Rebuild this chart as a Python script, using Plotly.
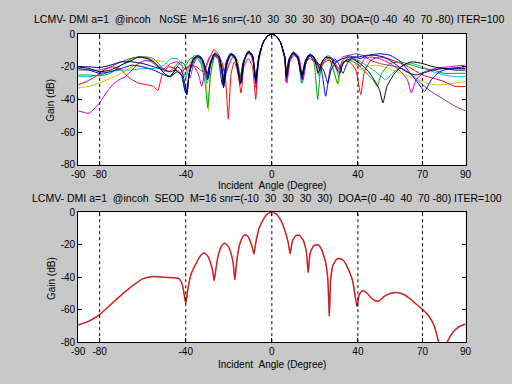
import plotly.graph_objects as go

# ---------------- data ----------------
doa = [0, -40, 40, 70, -80]
x_ticks = [-90, -80, -40, 0, 40, 70, 90]
y_ticks = [-80, -60, -40, -20, 0]

# top panel (NoSE): several trials
ang_a = [-90,-85,-80,-75,-70,-65,-60,-55,-50,-47,-44,-42,-40,-38,-35,-33,-31,-30,-29,-27,-25,-23,-21,-19,-17,-15,-14.3,-13,-11,-9,-7.5,-6,-4,-2,0,2,4,6,6.8,8,10,12,14,15,17,19,21,23,25,27,29,31,33,35,38,41,45,50,55,60,65,68,71,74,78,83,90]
gain_a = [-21,-22,-24,-23,-21,-19,-20,-22,-25,-26,-23,-25,-36,-22,-14,-15,-22,-28,-20,-13,-15,-31,-16,-12.5,-15,-27,-30,-17,-11,-14,-30,-14,-5,-1.2,0,-1.2,-5,-15,-27,-16,-11.5,-14,-26,-20,-13,-15,-18,-22,-38,-22,-15,-18,-24,-18,-14,-15,-13,-12,-13,-17,-25,-30,-35,-28,-23,-21,-20]

ang_b = [-90,-85,-80,-75,-70,-65,-61,-57,-53,-50,-47,-44,-42,-40,-38,-35,-33,-31,-29.8,-28.5,-26.5,-24.5,-22.5,-21,-19,-17,-15,-13,-10.5,-9,-7.5,-6,-4,-2,0,2,4,6,7,8.5,10,12,14,15.5,17.5,19.5,21.3,23,25,27,29,30.5,32,35,38,41,44,47,48.9,51,55,60,65,70,75,80,85,90]
gain_b = [-25,-25,-25.5,-24,-19,-15,-14,-15,-19,-24,-26,-20,-17,-19,-15,-14,-18,-30,-45,-25,-13,-15,-30,-17,-12.5,-15,-28,-16,-11,-14,-28,-13,-5,-1.2,0,-1.2,-5,-14,-27,-15,-12,-15,-28,-16,-13,-17,-40,-18,-14,-16,-24,-30,-20,-16,-17,-20,-24,-28,-32,-24,-18,-17,-19,-21,-22,-24,-24,-24]

ang_c = [-90,-86,-82,-78,-74,-70,-66,-62,-58,-55,-53,-51,-48,-45,-43,-41,-38,-35,-32,-30,-28,-27,-25,-23,-21.5,-20.2,-19,-17.5,-16,-14.3,-13,-11,-9,-7.5,-6.5,-4.5,-2,0,2,4,6,7,8.5,10.5,12.5,14,15.5,17.5,20,23,26,29,31,33,36,39,41.3,43,46,50,54,58,62,66,70,75,80,85,90]
gain_c = [-31,-29,-26,-22,-20,-22,-27,-30,-31,-32,-34.5,-25,-20,-21,-24,-22,-19,-20,-23,-18,-12,-9.5,-12,-18,-28,-52,-25,-17,-22,-36,-20,-15,-20,-40,-20,-7,-1.2,0,-1.2,-5,-14,-26,-16,-13,-16,-25,-18,-15,-17,-19,-16,-18,-22,-17,-17,-22,-37,-23,-16,-14,-15,-17,-19,-22,-25,-27,-29,-32,-32]

ang_d = [-90,-85,-80,-75,-70,-65,-60,-55,-50,-47,-44,-42,-40,-38.5,-36,-34,-32,-30,-28.5,-26.5,-24.5,-23,-22,-20.5,-18.5,-16.5,-15,-14,-12.5,-10.5,-9,-7.3,-6,-4,-2,0,2,4,6,6.8,8.5,10,12,14.2,16,18,20,22,23.5,26,28,30,31,33,36,40,45,50,53,56,60,65,70,75,80,85,90]
gain_d = [-26,-26,-25,-23,-22,-22,-21,-21,-19,-15,-15,-18,-27,-20,-13,-14,-20,-30,-18,-12,-15,-25,-30,-17,-12,-15,-24,-27,-15,-10.5,-13,-30,-14,-5,-1.2,0,-1.2,-5,-14,-28,-14,-11,-13,-30,-16,-12,-15,-26,-17,-13,-15,-22,-26,-18,-14,-16,-20,-25,-28,-24,-20,-18,-20,-23,-25,-26,-26]

ang_e = [-90,-87,-85,-82,-80,-77,-74,-71,-68,-65,-62,-59,-56,-53,-50,-47,-44,-42,-40,-38,-36,-34,-32.6,-31,-29,-27,-25,-23,-21.5,-20,-18,-16,-14.8,-13.5,-11.5,-10,-8.5,-7.3,-6,-4,-2,0,2,4,6,7,8.5,10.5,12.5,14.5,16,18,20,22,24,27,30,33,36,39,41,43,46,50,55,60,63,64.8,67,71,76,82,90]
gain_e = [-47,-48,-48.5,-45,-42,-36,-31,-28,-26,-22,-18,-16,-17,-20,-21,-18,-17,-19,-22,-19,-20,-25,-32,-22,-14,-12.5,-14,-20,-24,-19,-14,-18,-31,-19,-12,-12.5,-18,-33,-15,-5,-1.2,0,-1.2,-5,-15,-30,-16,-12,-14,-28,-17,-13,-15,-21,-17,-14,-17,-14,-13,-16,-20,-15,-14,-15,-18,-23,-28,-36,-28,-23,-21,-20,-19]

ang_f = [-90,-85,-80,-75,-70,-65,-60,-55,-50,-47,-44,-42,-40,-38,-36,-34,-32,-30.5,-29.5,-28.5,-26.5,-24.5,-22.5,-21.5,-20,-18,-16,-14.5,-13,-11,-9,-7.5,-6,-4,-2,0,2,4,6,7,8.5,10,12,14,15.5,17.5,19.5,21.5,23.5,26,28,30.8,32.5,35,38,41,44,48,52,56,60,64,68,72,76,80,85,90]
gain_f = [-33,-32,-30,-27,-24,-20,-17,-16,-17,-20,-22,-24,-26,-20,-15,-14,-18,-28,-47,-26,-14,-14,-22,-26,-18,-13,-16,-26,-16,-11.5,-14,-26,-13,-5,-1.2,0,-1.2,-5,-14,-24,-14,-11,-14,-24,-17,-12.5,-14,-22,-16,-14,-18,-31,-19,-15,-17,-22,-20,-19,-20,-22,-24,-26,-28,-30,-31,-31,-30,-29]

ang_g = [-90,-85,-80,-75,-70,-65,-62,-58,-55,-52,-50,-48,-46,-44,-42,-40.5,-39.5,-38.5,-36.5,-34,-32,-30.5,-29.5,-28.5,-26.5,-24.5,-23,-22.3,-21,-19,-17,-15.3,-14.5,-13,-10.8,-9,-7.5,-6,-4,-2,0,2,4,6,6.8,8.5,10,12,14,15.5,17.5,19.5,21.5,23,25,27.5,30,31.5,33.5,37,41,45,48,50,51.6,53.5,57,61,65,70,75,80,85,90]
gain_g = [-20,-21,-23,-22,-19,-16,-14,-15,-17,-21,-24,-26,-24,-20,-22,-30,-37,-25,-15,-13,-16,-23,-27,-19,-12,-14,-24,-32,-19,-12,-14,-26,-30,-17,-10.5,-13,-28,-14,-5,-1.2,0,-1.2,-5,-14,-26,-14,-11,-14,-25,-17,-12.5,-14,-24,-18,-14,-15,-21,-24,-17,-15,-18,-23,-29,-34,-42,-32,-24,-19,-17,-18,-20,-21,-22,-22]

ang_h = [-90,-85,-80,-75,-70,-66,-62,-58,-55,-52,-50,-48,-45,-43,-41,-39,-38,-36.5,-34.5,-32.5,-31,-30,-28.5,-26.5,-24.5,-23,-22.5,-21,-19,-17,-15.5,-14,-12.5,-10.5,-9,-7.3,-6,-4,-2,0,2,4,6,6.5,8,10,12,13.8,15,17,19,21,22.5,24,26,28,30,31,33,36,39,42,46,50,54,58,62,66,70,75,80,85,90]
gain_h = [-22,-22,-22,-20,-17,-15,-14,-14,-15,-19,-22,-23,-20,-17,-18,-24,-27,-19,-14,-15,-21,-25,-17,-12,-14,-22,-26,-18,-13,-15,-25,-24,-15,-11,-13,-27,-14,-5,-1.2,0,-1.2,-5,-14,-29,-15,-11.5,-13,-30,-19,-13,-14,-20,-23,-17,-14,-15,-19,-21,-16,-13,-12,-13,-16,-18,-19,-20,-22,-26,-31,-36,-40,-44,-47]

ang_i = [-90,-85,-80,-75,-70,-65,-60,-55,-50,-47,-45,-42,-40.5,-39.5,-38.5,-37,-35,-33,-31,-30,-28.5,-26.5,-24.5,-23,-22.5,-21.5,-19.5,-17.5,-15.5,-14.5,-13.5,-11,-9,-7.5,-6,-4,-2,0,2,4,6,6.6,8,10,12,14,15.5,17.5,19,21,24,26,27.5,30,33,36,40,44,48,52,56,60,64,67,70,75,80,85,90]
gain_i = [-20,-20,-20.5,-19,-17,-17,-18,-20,-22,-23,-22,-25,-34,-37,-26,-17,-13.5,-14,-20,-24,-17,-11.5,-14,-24,-33,-20,-12,-13,-22,-30,-18,-10.5,-13,-27,-14,-5,-1.2,0,-1.2,-5,-14,-25,-15,-12,-15,-27,-19,-13,-13.5,-17,-22,-30,-22,-17,-15,-14,-14,-13,-13,-14,-17,-21,-24,-25,-24,-22,-21,-21,-21]

# bottom panel (SEOD)
ang_s = [-90,-85,-80,-75,-70,-65,-60,-55,-50,-45,-43,-41.5,-40,-39,-37.5,-35,-33,-31.5,-30,-28.5,-27.5,-26.8,-26,-25,-23.5,-22,-20.5,-19,-18,-17.2,-16.3,-15,-13.5,-12.5,-11,-10,-9,-8.3,-7.5,-6,-4,-2,0,2,4,6,7.5,8.5,9.5,11,12.7,14.5,16,16.9,17.8,19.5,21.4,23,25,26,26.7,27.3,28.3,30,31.5,33.5,35.5,37.5,39.6,40.5,42.1,44,46,48,50,52,55,58,61,64,67,70,73,75.5,77.5,79.5,81.5,84,87,90]
gain_s = [-69.5,-67,-63,-57,-51,-45.5,-41,-39.5,-40,-40.3,-41,-45,-56,-47,-38,-31,-26.5,-25,-26.5,-31,-36,-42,-35,-27,-21,-19,-20.5,-25,-31,-41.5,-30,-20,-15,-13.8,-15,-18,-22,-25.7,-19,-10,-4.5,-1,0,-1,-4.5,-11,-18,-25.5,-18,-14.5,-14,-17,-24,-37,-25,-20.5,-20,-22.5,-31,-41,-64,-42,-33,-29,-28.5,-30,-35,-42,-58,-51,-48.3,-49.5,-52.5,-54.5,-54.5,-52,-50,-49.4,-50.5,-53,-56.5,-59.8,-64,-70,-80,-90,-80,-74,-70.5,-68.8]

top_series = [
    (ang_h, gain_h, '#8b3a8b'),
    (ang_f, gain_f, '#c8c800'),
    (ang_d, gain_d, '#00bfbf'),
    (ang_b, gain_b, '#00a000'),
    (ang_e, gain_e, '#d000d0'),
    (ang_c, gain_c, '#ff0000'),
    (ang_i, gain_i, '#000090'),
    (ang_a, gain_a, '#0000ff'),
    (ang_g, gain_g, '#000000'),
]

title_top = "LCMV- DMI a=1  @incoh   NoSE  M=16 snr=(-10  30  30  30  30)  DOA=(0 -40  40  70 -80) ITER=100"
title_bot = "LCMV- DMI a=1  @incoh  SEOD  M=16 snr=(-10  30  30  30  30)  DOA=(0 -40  40  70 -80) ITER=100"

# ---------------- figure ----------------
W, H = 512, 384
FONT = "Liberation Sans, Arial, sans-serif"

def px_x(v):
    return v / W

def px_y(v):
    return 1 - v / H

fig = go.Figure()

for ang, gain, col in top_series:
    fig.add_trace(go.Scatter(x=ang, y=gain, mode='lines', xaxis='x', yaxis='y',
                             line=dict(color=col, width=1, shape='spline', smoothing=0.5),
                             showlegend=False, hoverinfo='skip'))

fig.add_trace(go.Scatter(x=ang_s, y=gain_s, mode='lines', xaxis='x2', yaxis='y2',
                         line=dict(color='#ff2a2a', width=1.5, shape='spline', smoothing=0.5),
                         showlegend=False, hoverinfo='skip'))
fig.add_trace(go.Scatter(x=ang_s, y=gain_s, mode='lines', xaxis='x2', yaxis='y2',
                         line=dict(color='#7a2828', width=0.6, shape='spline', smoothing=0.5),
                         showlegend=False, hoverinfo='skip'))

xdom = [px_x(73), px_x(470.5)]
ydom_top = [px_y(164), px_y(29)]
ydom_bot = [px_y(347), px_y(213)]

def xaxis_cfg(anchor):
    return dict(domain=xdom, range=[-90, 90], anchor=anchor,
                tickmode='array', tickvals=x_ticks, ticktext=[str(v) for v in x_ticks],
                ticks='inside', ticklen=4, tickcolor='black', tickwidth=1,
                showline=True, linecolor='black', linewidth=1, mirror='ticks',
                showgrid=False, zeroline=False,
                tickfont=dict(family=FONT, size=10, color='black'))

def yaxis_cfg(dom, anchor):
    return dict(domain=dom, range=[-80, 0], anchor=anchor,
                tickmode='array', tickvals=y_ticks, ticktext=[str(v) for v in y_ticks],
                ticks='inside', ticklen=4, tickcolor='black', tickwidth=1,
                showline=True, linecolor='black', linewidth=1, mirror='ticks',
                showgrid=False, zeroline=False,
                tickfont=dict(family=FONT, size=10, color='black'))

shapes = []
for xr, yr in (('x', 'y domain'), ('x2', 'y2 domain')):
    for d in doa:
        shapes.append(dict(type='line', xref=xr, yref=yr, x0=d, x1=d, y0=0, y1=1,
                           line=dict(color='black', width=1, dash='3px,3px'), layer='above'))

nb = lambda s: s.replace(' ', '\u00a0')
xc = (xdom[0] + xdom[1]) / 2
annotations = [
    dict(text=nb(title_top), x=xc - px_x(3), y=px_y(13), xref='paper', yref='paper',
         xanchor='center', yanchor='middle', showarrow=False,
         font=dict(family=FONT, size=10.5, color='black')),
    dict(text=nb(title_bot), x=xc - px_x(5), y=px_y(198), xref='paper', yref='paper',
         xanchor='center', yanchor='middle', showarrow=False,
         font=dict(family=FONT, size=10.5, color='black')),
    dict(text=nb("Incident  Angle (Degree)"), x=xc, y=px_y(185.5), xref='paper', yref='paper',
         xanchor='center', yanchor='middle', showarrow=False,
         font=dict(family=FONT, size=10, color='black')),
    dict(text=nb("Incident  Angle (Degree)"), x=xc, y=px_y(370), xref='paper', yref='paper',
         xanchor='center', yanchor='middle', showarrow=False,
         font=dict(family=FONT, size=10, color='black')),
    dict(text="Gain (dB)", x=px_x(45), y=px_y(97), xref='paper', yref='paper',
         xanchor='center', yanchor='middle', showarrow=False, textangle=-90,
         font=dict(family=FONT, size=10, color='black')),
    dict(text="Gain (dB)", x=px_x(45), y=px_y(281), xref='paper', yref='paper',
         xanchor='center', yanchor='middle', showarrow=False, textangle=-90,
         font=dict(family=FONT, size=10, color='black')),
]

fig.update_layout(
    width=W, height=H,
    margin=dict(l=0, r=0, t=0, b=0, pad=0),
    paper_bgcolor='#c8c8c8', plot_bgcolor='white',
    xaxis=xaxis_cfg('y'), yaxis=yaxis_cfg(ydom_top, 'x'),
    xaxis2=xaxis_cfg('y2'), yaxis2=yaxis_cfg(ydom_bot, 'x2'),
    shapes=shapes, annotations=annotations,
    showlegend=False,
)

fig.write_html("out.html")
